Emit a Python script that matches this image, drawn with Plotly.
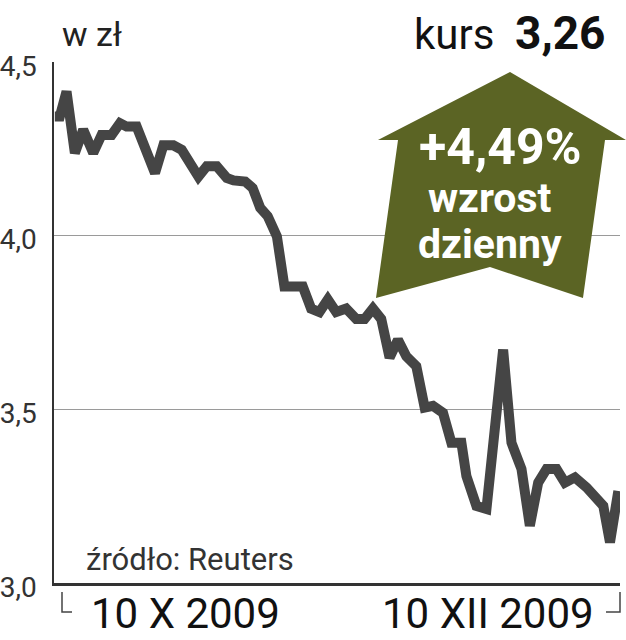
import plotly.graph_objects as go

# trading-day index and closing price (PLN)
days = [0, 0.6, 1.4, 2.4, 3.4, 4.6, 5.6, 6.8, 7.8, 8.6, 9.8, 12.0, 13.0, 14.2, 15.2, 17.2,
        18.2, 19.4, 20.6, 21.4, 22.8, 23.7, 24.6, 25.5, 26.6, 27.5, 28.5, 29.7, 30.7, 31.7,
        32.7, 33.7, 34.9, 36.1, 37.1, 38.1, 39.1, 40.1, 41.1, 42.1, 43.3, 44.3, 45.3, 46.5,
        47.5, 48.7, 49.3, 50.5, 51.7, 53.7, 54.7, 55.9, 56.9, 57.9, 58.9, 60.1, 61.1, 62.3,
        63.7, 65.7, 66.5, 67.5]
prices = [4.343, 4.343, 4.415, 4.238, 4.305, 4.238, 4.29, 4.29, 4.324, 4.314, 4.314, 4.18,
          4.26, 4.26, 4.247, 4.17, 4.2, 4.2, 4.166, 4.159, 4.156, 4.137, 4.08, 4.056, 3.998,
          3.854, 3.854, 3.854, 3.79, 3.78, 3.816, 3.78, 3.79, 3.76, 3.76, 3.79, 3.76, 3.649,
          3.70, 3.653, 3.624, 3.505, 3.51, 3.49, 3.404, 3.404, 3.308, 3.222, 3.213, 3.672,
          3.404, 3.328, 3.165, 3.289, 3.328, 3.328, 3.289, 3.304, 3.275, 3.222, 3.117, 3.265]

y_ticks = [3.0, 3.5, 4.0, 4.5]
y_tick_text = ["3,0", "3,5", "4,0", "4,5"]
x_labels = ["10 X 2009", "10 XII 2009"]
unit_label = "w zł"
price_word = "kurs"
last_price_label = "3,26"
change_label = "+4,49%"
change_desc = ["wzrost", "dzienny"]
source_label = "źródło: Reuters"

W, H = 626, 640
L, R, T, B = 54, 6, 62, 57
PW, PH = W - L - R, H - T - B

def px(x):
    return (x - L) / PW

def py(y):
    return (H - B - y) / PH

FONT = "Roboto, Liberation Sans, sans-serif"

fig = go.Figure()
fig.add_trace(go.Scatter(
    x=days, y=prices, mode="lines",
    line=dict(color="#454545", width=10, shape="linear"),
    hoverinfo="skip", showlegend=False, cliponaxis=False,
))

# arrow polygon (pixel coords -> paper)
arrow_px = [(510, 72), (626, 140), (605, 140), (583, 298), (490, 267), (376, 298),
            (398, 140), (378, 140)]
path = "M " + " L ".join(f"{px(a):.4f},{py(b):.4f}" for a, b in arrow_px) + " Z"

shapes = [
    dict(type="path", xref="paper", yref="paper", path=path,
         fillcolor="#5b6424", line=dict(width=0), layer="above"),
    # bracket ticks
    dict(type="path", xref="paper", yref="paper",
         path=f"M {px(62)},{py(592)} L {px(62)},{py(612)} L {px(72)},{py(612)}",
         line=dict(color="#444", width=1.5)),
    dict(type="path", xref="paper", yref="paper",
         path=f"M {px(606)},{py(612)} L {px(620)},{py(612)} L {px(620)},{py(592)}",
         line=dict(color="#444", width=1.5)),
]

def ann(text, x, y, size, color="#111", xanchor="center"):
    return dict(text=text, xref="paper", yref="paper", x=px(x), y=py(y), xanchor=xanchor,
                yanchor="middle", showarrow=False, font=dict(family=FONT, size=size, color=color))

annotations = [
    ann(unit_label, 60, 34, 34, "#222", "left"),
    ann(price_word, 496, 34, 42, "#111", "right"),
    ann(f"<b>{last_price_label}</b>", 608, 33, 46, "#111", "right"),
    ann(f"<b>{change_label}</b>", 500, 147, 50, "white"),
    ann(f"<b>{change_desc[0]}</b>", 490, 198, 41, "white"),
    ann(f"<b>{change_desc[1]}</b>", 490, 244, 41, "white"),
    ann(source_label, 84, 559, 31, "#333", "left"),
    ann(x_labels[0], 185, 613, 42),
    ann(x_labels[1], 488, 613, 42),
]

fig.update_layout(
    width=W, height=H,
    margin=dict(l=L, r=R, t=T, b=B, pad=0, autoexpand=False),
    paper_bgcolor="white", plot_bgcolor="white",
    shapes=shapes, annotations=annotations,
    showlegend=False,
    xaxis=dict(range=[-0.1, 67.7], showgrid=False, zeroline=False, showticklabels=False,
               ticks="", showline=True, linecolor="#333", linewidth=3, fixedrange=True,
               automargin=False),
    yaxis=dict(range=[3.0, 4.5], tickvals=y_ticks, ticktext=y_tick_text,
               showgrid=True, gridcolor="#9a9a9a", gridwidth=1.2, zeroline=False,
               showline=True, linecolor="#333", linewidth=1.5, ticks="",
               ticklabelstandoff=10, ticklabelshift=4,
               tickfont=dict(family=FONT, size=28, color="#333"),
               fixedrange=True, automargin=False),
)

fig.write_html("out.html", config={"displayModeBar": False},
               post_script="document.body.style.margin='0';document.body.style.overflow='hidden';")
